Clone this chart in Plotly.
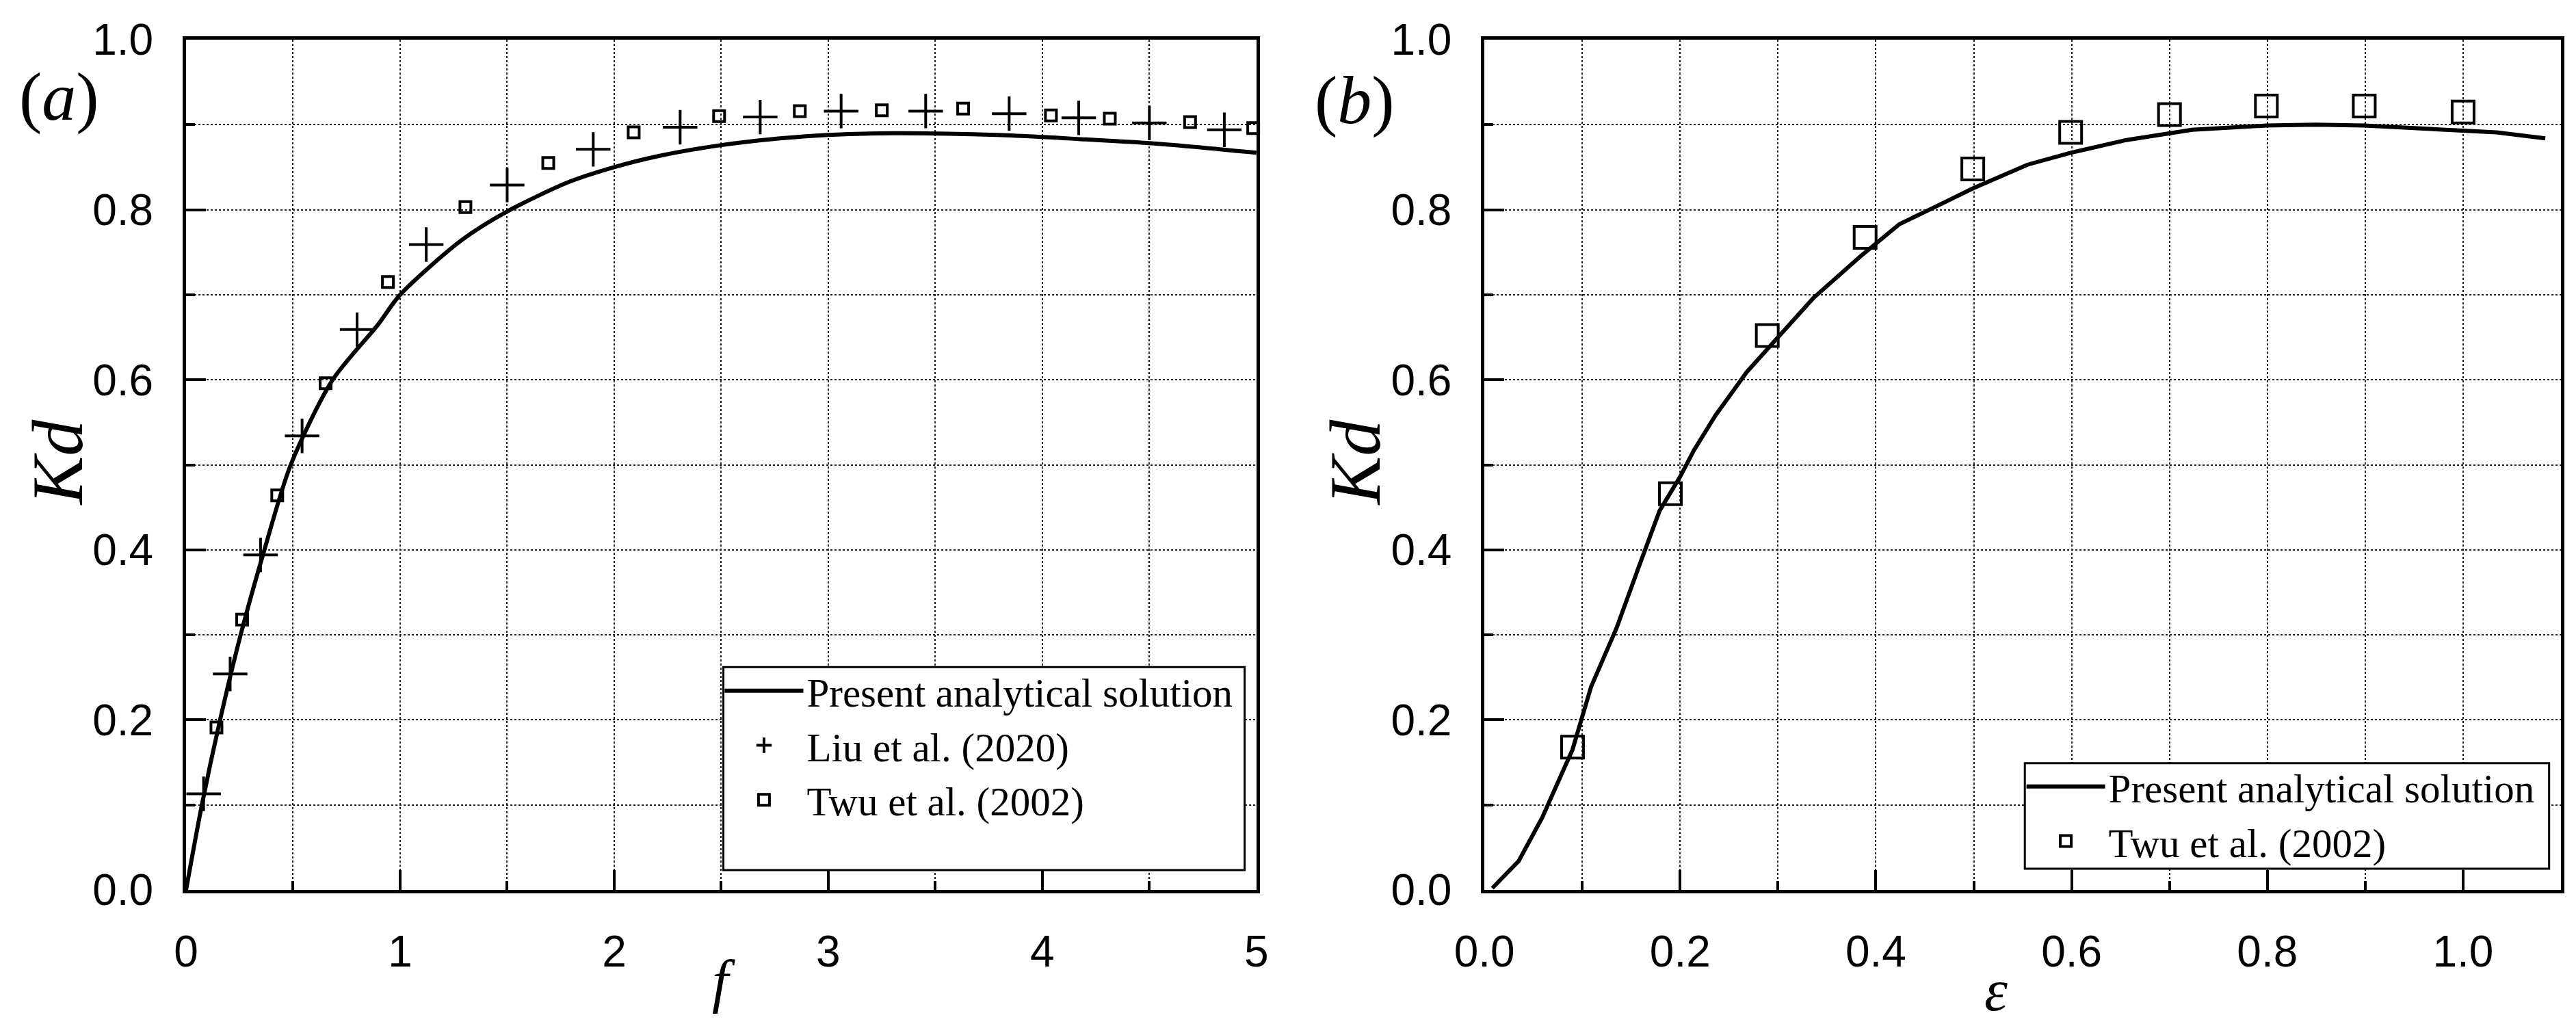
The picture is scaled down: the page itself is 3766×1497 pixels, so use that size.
import plotly.graph_objects as go

# ---- panel (a): Kd vs f ----
f_curve = [0, 0.074, 0.159, 0.255, 0.366, 0.489, 0.685, 0.894, 1.0, 1.286, 1.5,
           1.792, 2.0, 2.205, 2.5, 2.775, 3.0, 3.3, 3.79, 4.18, 4.57, 5.0]
kd_curve_a = [0, 0.1, 0.2, 0.3, 0.4, 0.5, 0.6, 0.664, 0.7, 0.764, 0.798,
              0.833, 0.850, 0.863, 0.876, 0.884, 0.888, 0.890, 0.888, 0.883, 0.877, 0.867]

f_liu = [0.082, 0.206, 0.348, 0.542, 0.799, 1.122, 1.5, 1.902, 2.308, 2.682,
         3.06, 3.455, 3.845, 4.17, 4.50, 4.85]
kd_liu = [0.113, 0.254, 0.394, 0.534, 0.659, 0.759, 0.829, 0.871, 0.897, 0.909,
          0.916, 0.916, 0.913, 0.908, 0.902, 0.894]

f_twu = [0.142, 0.262, 0.426, 0.652, 0.943, 1.305, 1.692, 2.091, 2.49, 2.867,
         3.25, 3.63, 4.04, 4.315, 4.69, 4.985]
kd_twu_a = [0.191, 0.318, 0.464, 0.596, 0.715, 0.803, 0.855, 0.891, 0.910, 0.916,
            0.917, 0.919, 0.911, 0.907, 0.903, 0.896]

# ---- panel (b): Kd vs epsilon ----
eps_curve = [0.008, 0.035, 0.059, 0.09, 0.109, 0.135, 0.159, 0.179, 0.2, 0.214,
             0.236, 0.268, 0.300, 0.336, 0.384, 0.424, 0.46, 0.499, 0.555, 0.599,
             0.656, 0.723, 0.799, 0.849, 0.899, 0.975, 1.034, 1.084]
kd_curve_b = [0.002, 0.034, 0.085, 0.165, 0.239, 0.308, 0.384, 0.446, 0.486, 0.517,
              0.558, 0.609, 0.650, 0.696, 0.745, 0.783, 0.803, 0.825, 0.853, 0.867,
              0.882, 0.894, 0.899, 0.900, 0.899, 0.895, 0.891, 0.884]

eps_twu = [0.09, 0.19, 0.289, 0.389, 0.499, 0.599, 0.70, 0.799, 0.899, 1.0]
kd_twu_b = [0.168, 0.466, 0.652, 0.7675, 0.848, 0.891, 0.912, 0.922, 0.922, 0.915]

W, H = 3766, 1497
ML, MR, MT, MB = 264, 23, 50, 204
PW, PH = W - ML - MR, H - MT - MB


def px(x):
    return (x - ML) / PW


def py(y):
    return (H - MB - y) / PH


SANS = "Liberation Sans, Arial, sans-serif"
SERIF = "Liberation Serif, Times New Roman, serif"

fig = go.Figure()

fig.add_trace(go.Scatter(x=f_curve, y=kd_curve_a, mode="lines", name="Present analytical solution",
                         line=dict(color="black", width=6, shape="spline", smoothing=0.8),
                         xaxis="x", yaxis="y", legend="legend"))
fig.add_trace(go.Scatter(x=f_liu, y=kd_liu, mode="markers", name="Liu et al. (2020)",
                         marker=dict(symbol="cross-thin-open", size=36, color="black",
                                     line=dict(color="black", width=4)),
                         cliponaxis=False, xaxis="x", yaxis="y", legend="legend"))
fig.add_trace(go.Scatter(x=f_twu, y=kd_twu_a, mode="markers", name="Twu et al. (2002)",
                         marker=dict(symbol="square-open", size=16, color="black",
                                     line=dict(color="black", width=4)),
                         cliponaxis=False, xaxis="x", yaxis="y", legend="legend"))

fig.add_trace(go.Scatter(x=eps_curve, y=kd_curve_b, mode="lines", name="Present analytical solution",
                         line=dict(color="black", width=6), xaxis="x2", yaxis="y2", legend="legend2"))
fig.add_trace(go.Scatter(x=eps_twu, y=kd_twu_b, mode="markers", name="Twu et al. (2002)",
                         marker=dict(symbol="square-open", size=32, color="black",
                                     line=dict(color="black", width=4)),
                         cliponaxis=False, xaxis="x2", yaxis="y2", legend="legend2"))

axis_common = dict(
    showline=True, linewidth=5, linecolor="black", mirror=True,
    ticks="inside", ticklen=29, tickwidth=4, tickcolor="black",
    showgrid=True, gridcolor="#222222", gridwidth=2, griddash="dot",
    zeroline=False, ticklabelstandoff=30,
    tickfont=dict(family=SANS, size=64, color="black"),
)


def minor(step):
    return dict(dtick=step, ticks="inside", ticklen=13, tickwidth=4, tickcolor="black",
                showgrid=True, gridcolor="#222222", gridwidth=2, griddash="dot")


fig.update_layout(
    width=W, height=H,
    margin=dict(l=ML, r=MR, t=MT, b=MB),
    paper_bgcolor="white", plot_bgcolor="white",
    xaxis=dict(domain=[0, px(1832)], range=[0, 5], dtick=1, tick0=0,
               minor=minor(0.5), anchor="y", **axis_common),
    yaxis=dict(domain=[0, 1], range=[0, 1], dtick=0.2, tick0=0, tickformat=".1f",
               minor=minor(0.1), anchor="x", **axis_common),
    xaxis2=dict(domain=[px(2166), 1], range=[0, 1.1], dtick=0.2, tick0=0, tickformat=".1f",
                minor=minor(0.1), anchor="y2", **axis_common),
    yaxis2=dict(domain=[0, 1], range=[0, 1], dtick=0.2, tick0=0, tickformat=".1f",
                minor=minor(0.1), anchor="x2", **axis_common),
    legend=dict(x=px(1048), y=py(957), xanchor="left", yanchor="top",
                bgcolor="rgba(0,0,0,0)", borderwidth=0, itemwidth=115,
                font=dict(family=SERIF, size=59, color="black")),
    legend2=dict(x=px(2955), y=py(1097), xanchor="left", yanchor="top",
                 bgcolor="rgba(0,0,0,0)", borderwidth=0, itemwidth=115,
                 font=dict(family=SERIF, size=59, color="black")),
    showlegend=True,
)

# legend frames (white boxes hiding the grid)
fig.add_shape(type="rect", xref="x domain", yref="y domain", x0=0.502, x1=0.989, y0=0.0233, y1=0.262,
              line=dict(color="black", width=3), fillcolor="white", layer="above")
fig.add_shape(type="rect", xref="x2 domain", yref="y2 domain", x0=0.502, x1=0.989, y0=0.025, y1=0.149,
              line=dict(color="black", width=3), fillcolor="white", layer="above")

# panel labels and axis titles
labels = [
    ("(<i>a</i>)", px(78), py(133), 100, 0),
    ("(<i>b</i>)", px(1976), py(138), 100, 0),
    ("<i>Kd</i>", px(76), py(668), 106, -90),
    ("<i>Kd</i>", px(1976), py(668), 106, -90),
    ("<i>f</i>", px(1052), py(1426), 86, 0),
    ("<i>ε</i>", px(2915), py(1440), 86, 0),
]
for text, x, y, size, angle in labels:
    fig.add_annotation(text=text, x=x, y=y, xref="paper", yref="paper",
                       xanchor="center", yanchor="middle", showarrow=False, textangle=angle,
                       font=dict(family=SERIF, size=size, color="black"))

fig.write_html("out.html")
